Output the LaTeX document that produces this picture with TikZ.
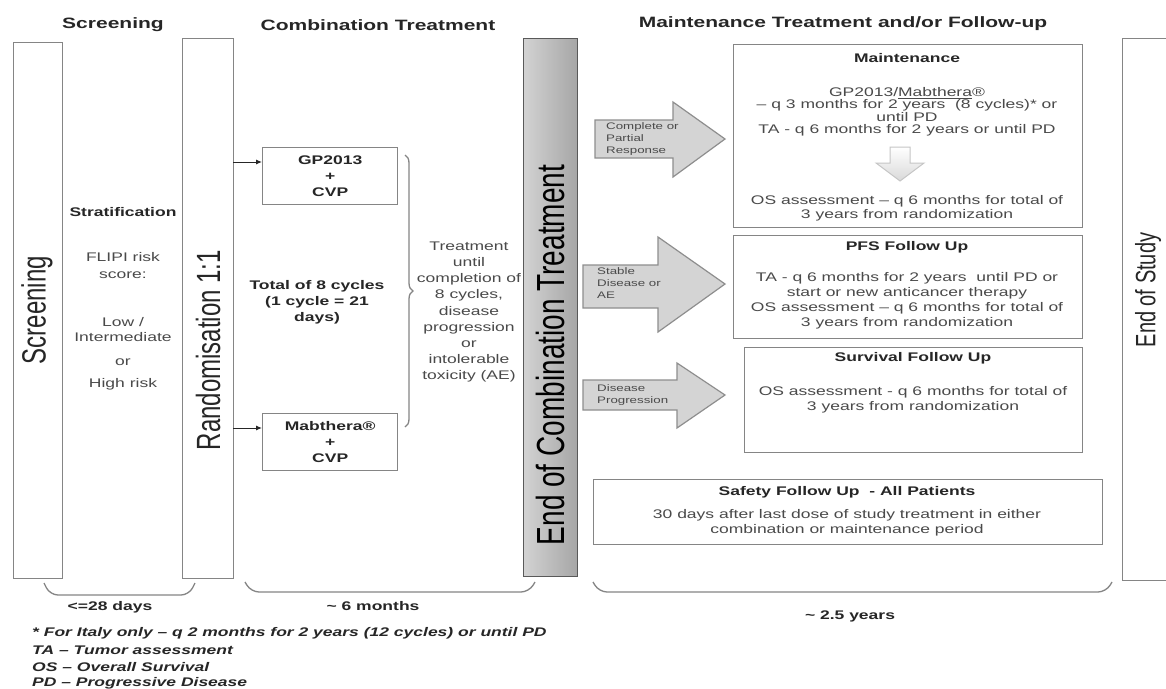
\documentclass[tikz,border=0pt]{standalone}
\usepackage{fontspec}
\setmainfont{Liberation Sans}[FakeStretch=1.4]
\newfontfamily\vfont{Liberation Sans}
\usetikzlibrary{decorations.pathreplacing,arrows.meta}
\definecolor{txt}{HTML}{4A4A4A}
\definecolor{ttl}{HTML}{262626}
\definecolor{boxline}{HTML}{858585}
\definecolor{arrfill}{HTML}{D4D4D4}
\definecolor{arrline}{HTML}{8E8E8E}
\tikzset{
  box/.style={draw=boxline, line width=1.4pt, anchor=north west, inner sep=0pt},
  hdr/.style={font=\bfseries\fontsize{15}{18}\selectfont, text=ttl, inner sep=0pt},
  body/.style={font=\fontsize{12.5}{15}\selectfont, text=txt, align=center, inner sep=0pt},
  bbody/.style={font=\bfseries\fontsize{12.5}{16}\selectfont, text=ttl, align=center, inner sep=0pt},
  small/.style={font=\fontsize{9.5}{12}\selectfont, text=txt, align=left, inner sep=0pt, anchor=west},
  vtxt/.style={rotate=90, inner sep=0pt, text=ttl},
  blockarrow/.style={fill=arrfill, draw=arrline, line width=1.2pt, line join=miter},
  bracket/.style={draw=boxline, line width=1.3pt, rounded corners=8pt},
  fn/.style={font=\bfseries\itshape\fontsize{12.5}{14}\selectfont, text=ttl, anchor=west, inner sep=0pt},
  conn/.style={draw=ttl, line width=1pt, -{Latex[length=6pt,width=5pt]}}
}
\begin{document}
\begin{tikzpicture}[x=1pt,y=-1pt]
\useasboundingbox (0,0) rectangle (1166,688);
\fill[white] (0,0) rectangle (1166,688);

% headers
\node[hdr] (h1) at (113,25) {Screening};
\node[hdr] (h2) at (378,25) {Combination Treatment};
\node[hdr] (h3) at (843,24) {Maintenance Treatment and/or Follow-up};

% screening
\node[box, minimum width=49pt, minimum height=536pt] (scr) at (13,42) {};
\node[vtxt, font=\vfont\fontsize{24}{24}\selectfont] (scrt) at (37,310) {\scalebox{1}[1.4]{Screening}};

% stratification
\node[bbody] (strat) at (123,212) {Stratification};
\node[body, font=\fontsize{12.5}{17}\selectfont] (flipi) at (123,266) {FLIPI risk\\score:};
\node[body] (low) at (123,329.5) {Low /\\Intermediate};
\node[body] (or) at (123,362) {or};
\node[body] (high) at (123,384) {High risk};

% randomisation
\node[box, minimum width=51pt, minimum height=540pt] (rnd) at (182,38) {};
\node[vtxt, font=\vfont\fontsize{24}{24}\selectfont] (rndt) at (208,350) {\scalebox{1}[1.4]{Randomisation 1:1}};

% treatment arms
\node[box, minimum width=135pt, minimum height=57pt] (gp) at (262,147) {};
\node[bbody] (gpt) at (gp.center) {GP2013\\+\\CVP};
\node[box, minimum width=135pt, minimum height=57pt] (mab) at (262,413) {};
\node[bbody] (mabt) at (mab.center) {Mabthera®\\+\\CVP};
\coordinate (c1) at (233,162);
\coordinate (c2) at (233,428);
\draw[conn] (c1) -- (c1 -| gp.west);
\draw[conn] (c2) -- (c2 -| mab.west);

\node[bbody] (tot) at (317,302) {Total of 8 cycles\\(1 cycle = 21\\days)};
\coordinate (bt) at (405,155);
\coordinate (bb) at (405,427);
\draw[draw=boxline, line width=1.3pt, decorate, decoration={brace, amplitude=8pt}] (bt) -- (bb);
\node[body, font=\fontsize{12.5}{16.1}\selectfont] (treat) at (469,312) {Treatment\\until\\completion of\\8 cycles,\\disease\\progression\\or\\intolerable\\toxicity (AE)};

% end of combination treatment
\node[box, minimum width=54pt, minimum height=538pt, draw=gray!70!black, left color=gray!35, right color=gray!70] (ect) at (523,38) {};
\node[vtxt, font=\vfont\fontsize{28}{28}\selectfont, text=black] (ectt) at (550,355) {\scalebox{1}[1.4]{End of Combination Treatment}};

% block arrows
\draw[blockarrow] (595,120) -- (673,120) -- (673,102) -- (725,139) -- (673,177) -- (673,158) -- (595,158) -- cycle;
\node[small] (l1) at (606,139) {Complete or\\Partial\\Response};
\draw[blockarrow] (583,265) -- (658,265) -- (658,237) -- (725,284) -- (658,332) -- (658,308) -- (583,308) -- cycle;
\node[small] (l2) at (597,283) {Stable\\Disease or\\AE};
\draw[blockarrow] (583,380) -- (677,380) -- (677,363) -- (725,395) -- (677,428) -- (677,410) -- (583,410) -- cycle;
\node[small] (l3) at (597,395) {Disease\\Progression};

% maintenance
\node[box, minimum width=349pt, minimum height=183pt] (mnt) at (733,44) {};
\node[bbody] (mntt) at (907,58) {Maintenance};
\node[body, font=\fontsize{12.5}{12.5}\selectfont] (mnta) at (907,112) {GP2013/\underline{Mabthera}®\\– q 3 months for 2 years~ (8 cycles)* or\\until PD\\TA - q 6 months for 2 years or until PD};
\draw[line width=1pt, draw=gray!45, top color=white, bottom color=gray!30] (890,147) -- (910,147) -- (910,163) -- (924,163) -- (900,181) -- (876,163) -- (890,163) -- cycle;
\node[body, font=\fontsize{12.5}{14}\selectfont] (mntb) at (907,208) {OS assessment – q 6 months for total of\\3 years from randomization};

% PFS
\node[box, minimum width=349pt, minimum height=103pt] (pfs) at (733,235) {};
\node[bbody] (pfst) at (907,247) {PFS Follow Up};
\node[body] (pfsb) at (907,300.5) {TA - q 6 months for 2 years~ until PD or\\start or new anticancer therapy\\OS assessment – q 6 months for total of\\3 years from randomization};

% survival
\node[box, minimum width=338pt, minimum height=105pt] (srv) at (744,347) {};
\node[bbody] (srvt) at (913,358) {Survival Follow Up};
\node[body] (srvb) at (913,399.5) {OS assessment - q 6 months for total of\\3 years from randomization};

% safety
\node[box, minimum width=509pt, minimum height=65pt] (saf) at (593,479) {};
\node[bbody] (saft) at (847,492) {Safety Follow Up~ - All Patients};
\node[body] (safb) at (847,522.5) {30 days after last dose of study treatment in either\\combination or maintenance period};

% end of study
\node[box, minimum width=60pt, minimum height=542pt] (eos) at (1122,38) {};
\node[vtxt, font=\vfont\fontsize{20}{20}\selectfont] (eost) at (1148,290) {\scalebox{1}[1.4]{End of Study}};

% bottom brackets
\draw[bracket] (44,583) -- (50,595) -- (189,595) -- (195,583);
\node[bbody] (d1) at (110,607) {<=28 days};
\draw[bracket] (245,582) -- (251,592) -- (529,592) -- (535,582);
\node[bbody] (d2) at (373,606) {\textasciitilde{} 6 months};
\draw[bracket] (593,582) -- (599,592) -- (1106,592) -- (1112,582);
\node[bbody] (d3) at (850,616) {\textasciitilde{} 2.5 years};

% footnotes
\node[fn] (f1) at (32,633) {* For Italy only – q 2 months for 2 years (12 cycles) or until PD};
\node[fn] (f2) at (32,650) {TA – Tumor assessment};
\node[fn] (f3) at (32,667) {OS – Overall Survival};
\node[fn] (f4) at (32,683) {PD – Progressive Disease};
\end{tikzpicture}
\end{document}
